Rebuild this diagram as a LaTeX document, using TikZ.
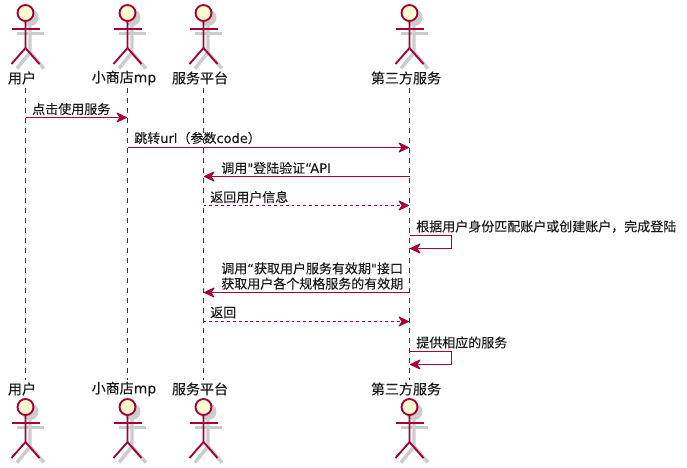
\documentclass[tikz,border=0pt]{standalone}
\usepackage{fontspec}
\setmainfont[FakeBold=0.06]{Noto Sans CJK SC}
\newfontfamily\latn[FakeBold=0.06]{DejaVu Sans}
\usetikzlibrary{arrows.meta}
\definecolor{umlred}{HTML}{A80036}
\definecolor{umlfill}{HTML}{FEFECE}
\tikzset{
  msg/.style={draw=umlred,line width=0.75pt,-{Stealth[length=9pt,width=8.5pt,inset=3pt,round]},shorten >=0.4pt},
  rsp/.style={msg,dash pattern=on 2.2pt off 2.2pt},
  life/.style={draw=umlred,line width=0.75pt,dash pattern=on 3.75pt off 3.75pt},
  who/.style={inner sep=0pt,font=\fontsize{10.5pt}{12pt}\selectfont,text=black!90},
  txt/.style={inner sep=0pt,anchor=west,align=left,font=\fontsize{9.75pt}{11.4pt}\selectfont,text=black!90},
  pics/stick/.style={code={
      \begin{scope}[shift={(4.5,4.5)},draw=black!20,line width=2.6pt]
       \fill[black!20] (0,0) circle(8.5);
       \draw (-13,16) -- (14,16);
       \draw (0,8) -- (0,35) -- (-13,51);
       \draw (0,35) -- (14,51);
      \end{scope}
      \begin{scope}[draw=umlred,line width=1.4pt]
       \draw (-14,16) -- (14,16);
       \draw (0,8) -- (0,35) -- (-14,51);
       \draw (0,35) -- (14,51);
       \draw[fill=umlfill] (0,0) circle(8);
      \end{scope}
  }}
}
\begin{document}
\begin{tikzpicture}[x=0.75pt,y=-0.75pt]
       \useasboundingbox (0,0) rectangle (687,468);
       % lifelines
       \node[who] (usertop) at (22,78) {用户};
       \node[who] (shoptop) at (124,78) {小商店\latn mp};
       \node[who] (plattop) at (200,78) {服务平台};
       \node[who] (thirdtop) at (406,78) {第三方服务};
       \node[who] (userbot) at (22,389) {用户};
       \node[who] (shopbot) at (124,389) {小商店\latn mp};
       \node[who] (platbot) at (200,389) {服务平台};
       \node[who] (thirdbot) at (406,389) {第三方服务};
       \foreach \name/\x in {user/25.5,shop/127.5,plat/203.5,third/409.5} {
         \coordinate (\name a) at (\x,88);
         \coordinate (\name b) at (\x,380);
         \draw[life] (\name a) -- (\name b);
         \pic at (\x,13) {stick};
         \pic at (\x,407) {stick};
       }
       % message ends
       \foreach \name/\y in {m/117.5,n/147.5,o/176.5,p/205.5,r/292.5,s/321.5} {
         \coordinate (\name user) at (25.5,\y);
         \coordinate (\name shop) at (127.5,\y);
         \coordinate (\name plat) at (203.5,\y);
         \coordinate (\name third) at (409.5,\y);
       }
       \coordinate (qa) at (409.5,235.5);
       \coordinate (qb) at (451.5,235.5);
       \coordinate (qc) at (451.5,248.5);
       \coordinate (qd) at (409.5,248.5);
       \coordinate (ta) at (409.5,351.5);
       \coordinate (tb) at (451.5,351.5);
       \coordinate (tc) at (451.5,364.5);
       \coordinate (td) at (409.5,364.5);
       \draw[msg] (muser) -- (mshop);
       \draw[msg] (nshop) -- (nthird);
       \draw[msg] (othird) -- (oplat);
       \draw[rsp] (pplat) -- (pthird);
       \draw[msg] (qa) -- (qb) -- (qc) -- (qd);
       \draw[msg] (rthird) -- (rplat);
       \draw[rsp] (splat) -- (sthird);
       \draw[msg] (ta) -- (tb) -- (tc) -- (td);
       % labels
       \node[txt] (lm) at (32,109) {点击使用服务};
       \node[txt] (ln) at (134,138) {跳转{\latn url}（参数{\latn code}）};
       \node[txt] (lo) at (221,168) {调用{\latn"}登陆验证{\latn“API}};
       \node[txt] (lp) at (210,197) {返回用户信息};
       \node[txt] (lq) at (416,226.5) {根据用户身份匹配账户或创建账户，完成登陆};
       \node[txt] (lr) at (221,276) {调用{\latn“}获取用户服务有效期{\latn"}接口\\获取用户各个规格服务的有效期};
       \node[txt] (ls) at (210,312.5) {返回};
       \node[txt] (lt) at (416,342.5) {提供相应的服务};
      \end{tikzpicture}
\end{document}
